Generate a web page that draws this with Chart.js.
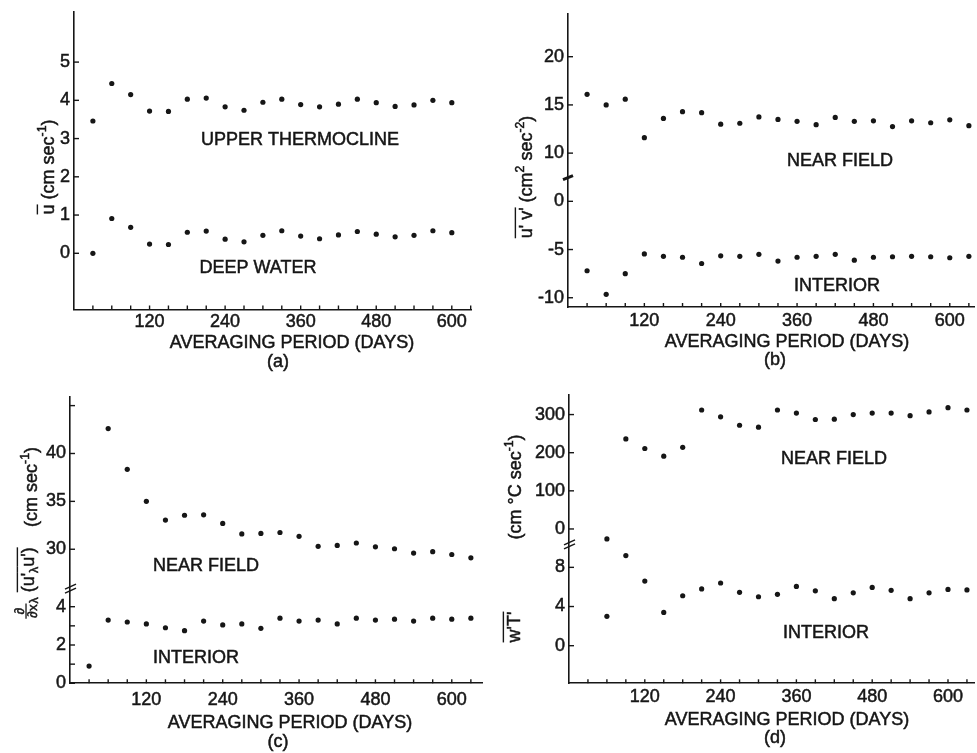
<!DOCTYPE html>
<html><head><meta charset="utf-8">
<script src="https://cdn.jsdelivr.net/npm/chart.js@4.4.1/dist/chart.umd.min.js"></script>
<style>
html,body{margin:0;padding:0;background:#fff;width:977px;height:753px;overflow:hidden;}
canvas{position:absolute;}
</style></head><body>
<canvas id="pa"></canvas><canvas id="pb"></canvas><canvas id="pc"></canvas><canvas id="pd"></canvas>
<script>
// ---------------- DATA ----------------
const xTickLabels = [120, 240, 360, 480, 600];
const xMinorTicks = [30,60,90,120,150,180,210,240,270,300,330,360,390,420,450,480,510,540,570,600,630];

// (a) mean velocity
const daysA = [30,60,90,120,150,180,210,240,270,300,330,360,390,420,450,480,510,540,570,600];
const upperThermocline = [3.46,4.44,4.15,3.72,3.71,4.03,4.06,3.83,3.74,3.95,4.03,3.89,3.83,3.90,4.03,3.94,3.84,3.88,4.00,3.94];
const deepWater = [0.00,0.91,0.68,0.24,0.23,0.55,0.58,0.37,0.30,0.47,0.59,0.45,0.38,0.48,0.57,0.50,0.43,0.47,0.59,0.54];
const yTicksA = [0,1,2,3,4,5];

// (b) Reynolds stress u'v'
const daysB = [30,60,90,120,150,180,210,240,270,300,330,360,390,420,450,480,510,540,570,600,630];
const nearFieldB = [16.1,15.0,15.6,11.6,13.6,14.3,14.2,13.0,13.1,13.75,13.5,13.3,12.95,13.7,13.3,13.35,12.75,13.35,13.15,13.45,12.85];
const interiorB = [-7.2,-9.65,-7.5,-5.45,-5.7,-5.8,-6.45,-5.65,-5.7,-5.5,-6.2,-5.8,-5.7,-5.5,-6.1,-5.8,-5.75,-5.7,-5.75,-5.85,-5.7];
const yTicksBLow = [-10,-5,0];
const yTicksBHigh = [10,15,20];

// (c) momentum flux divergence
const daysCNear = [60,90,120,150,180,210,240,270,300,330,360,390,420,450,480,510,540,570,600,630];
const nearFieldC = [42.6,38.35,35.0,33.05,33.55,33.6,32.7,31.6,31.65,31.75,31.35,30.3,30.4,30.65,30.25,30.05,29.6,29.75,29.45,29.1];
const daysCInt = [30,60,90,120,150,180,210,240,270,300,330,360,390,420,450,480,510,540,570,600,630];
const interiorC = [0.9,3.3,3.2,3.1,2.9,2.75,3.25,3.05,3.1,2.87,3.4,3.25,3.3,3.1,3.4,3.3,3.35,3.25,3.4,3.35,3.4];
const yTicksCLow = [0,2,4];
const yMinorCLow = [1,3];
const yTicksCHigh = [30,35,40];
const yMinorCHigh = [45];

// (d) heat flux w'T'
const daysD = [60,90,120,150,180,210,240,270,300,330,360,390,420,450,480,510,540,570,600,630];
const nearFieldD = [-26,236,211,191,214,312,294,272,267,312,304,287,288,300,304,304,297,307,318,312];
const interiorD = [3.0,9.2,6.6,3.4,5.1,5.8,6.4,5.45,5.0,5.25,6.05,5.6,4.8,5.4,5.95,5.65,4.8,5.4,5.75,5.7];
const yTicksDLow = [0,4,8];
const yTicksDHigh = [0,100,200,300];

// broken-axis mappings (value -> axis position)
const ident = v => v;
const highB = v => v - 5;
const highC = v => 7 + (v - 30) / 2;
const highD = v => 11.92 + v / 25.68;

// ---------------- STYLE / LAYOUT ----------------
const FONT = "'Liberation Sans', Arial, Helvetica, sans-serif";
const INK = '#161616';
const FS = 18;
const STROKE = 0.5;

function pts(days, vals, f) { return days.map((d, i) => ({x: d, y: f(vals[i])})); }
function tickList(vals, f, labeled) { return vals.map(v => ({pos: f(v), label: labeled ? String(v) : ''})); }

function txt(ctx, s, x, y) {
  ctx.fillText(s, x, y);
  ctx.lineWidth = STROKE;
  ctx.strokeText(s, x, y);
}

function drawRich(ctx, cx, cy, parts, size) {
  ctx.save();
  ctx.translate(cx, cy);
  ctx.rotate(-Math.PI / 2);
  ctx.textAlign = 'left';
  ctx.textBaseline = 'alphabetic';
  let w = 0;
  const items = parts.map(pt => {
    const s = (pt.sup || pt.sub) ? size * 0.68 : (pt.small ? size * 0.74 : size);
    ctx.font = s + 'px ' + FONT;
    let mw;
    if (pt.frac) {
      const nw = ctx.measureText(pt.num).width;
      const dw = ctx.measureText(pt.den).width;
      mw = Math.max(nw, dw) + 2;
    } else {
      mw = ctx.measureText(pt.t).width;
    }
    const it = Object.assign({}, pt, {s: s, w: mw, x: w});
    w += mw;
    return it;
  });
  const base = size * 0.36;
  items.forEach(it => {
    ctx.font = it.s + 'px ' + FONT;
    const x0 = -w / 2 + it.x;
    if (it.frac) {
      const nw = ctx.measureText(it.num).width;
      const dw = ctx.measureText(it.den).width;
      txt(ctx, it.num, x0 + (it.w - nw) / 2, base - size * 0.6);
      ctx.lineWidth = 1.3;
      ctx.beginPath(); ctx.moveTo(x0, base - size * 0.47); ctx.lineTo(x0 + it.w, base - size * 0.47); ctx.stroke();
      txt(ctx, it.den, x0 + (it.w - dw) / 2, base + size * 0.14);
      return;
    }
    let dy = base;
    if (it.sup) dy -= size * 0.45;
    if (it.sub) dy += size * 0.22;
    txt(ctx, it.t, x0, dy);
    if (it.over) {
      ctx.lineWidth = 1.4;
      const oy = base - size * 0.95;
      ctx.beginPath(); ctx.moveTo(x0, oy); ctx.lineTo(x0 + it.w, oy); ctx.stroke();
    }
  });
  ctx.restore();
}

function decor(p) {
  return {
    id: 'decor_' + p.id,
    afterDraw(chart) {
      const ctx = chart.ctx, xs = chart.scales.x, ys = chart.scales.y, a = chart.chartArea;
      ctx.save();
      ctx.strokeStyle = INK; ctx.fillStyle = INK; ctx.lineWidth = 1.4;
      const line = (x1, y1, x2, y2) => { ctx.beginPath(); ctx.moveTo(x1, y1); ctx.lineTo(x2, y2); ctx.stroke(); };
      xMinorTicks.forEach(v => { if (v > xs.max) return; const px = xs.getPixelForValue(v); line(px, a.bottom, px, a.bottom - 4); });
      p.yTickPos.forEach(v => { const py = ys.getPixelForValue(v); line(a.left, py, a.left + 5, py); });
      if (p.brk) {
        const py = ys.getPixelForValue(p.brk.pos);
        if (p.brk.single) {
          ctx.lineWidth = 3;
          line(a.left - 5, py + 2, a.left + 5, py - 2);
        } else {
          ctx.lineWidth = 1.5;
          line(a.left - 5, py + 1, a.left + 6, py - 4);
          line(a.left - 5, py + 5, a.left + 6, py);
        }
      }
      const ox = p.left, oy = p.top;
      ctx.font = FS + 'px ' + FONT;
      ctx.textAlign = 'center'; ctx.textBaseline = 'middle';
      p.texts.forEach(t => txt(ctx, t.text, t.x - ox, t.y - oy));
      p.rich.forEach(r => drawRich(ctx, r.x - ox, r.y - oy, r.parts, FS));
      ctx.restore();
    }
  };
}

function panel(p) {
  const cv = document.getElementById(p.id);
  cv.width = p.w; cv.height = p.h;
  cv.style.left = p.left + 'px'; cv.style.top = p.top + 'px';
  cv.style.width = p.w + 'px'; cv.style.height = p.h + 'px';
  const A = p.area;
  const padTop = A.T - p.top, padRight = p.left + p.w - A.R;
  const yW = A.L - p.left, xH = p.top + p.h - A.B;
  const yTicks = p.yTicks;
  const tickFont = {family: FONT, size: FS};
  new Chart(cv, {
    type: 'scatter',
    data: {datasets: p.series.map(s => ({data: s, pointRadius: 2.6, pointHoverRadius: 2.6, backgroundColor: INK, borderWidth: 0, showLine: false}))},
    options: {
      responsive: false, animation: false, devicePixelRatio: 1, events: [],
      layout: {padding: {top: padTop, right: padRight, left: 0, bottom: 0}},
      plugins: {legend: {display: false}, tooltip: {enabled: false}},
      scales: {
        x: {
          type: 'linear', min: p.xmin, max: p.xmax,
          afterFit: s => { s.height = xH; s.paddingLeft = 0; s.paddingRight = 0; s.paddingTop = 0; s.paddingBottom = 0; },
          afterBuildTicks: s => { s.ticks = xTickLabels.map(v => ({value: v})); },
          ticks: {font: tickFont, color: INK, textStrokeColor: INK, textStrokeWidth: STROKE, padding: p.xPad, maxRotation: 0, minRotation: 0, autoSkip: false, callback: (v, i) => String(xTickLabels[i])},
          grid: {display: true, drawOnChartArea: false, drawTicks: false},
          border: {display: true, color: INK, width: 1.6}
        },
        y: {
          type: 'linear', min: p.ymin, max: p.ymax,
          afterFit: s => { s.width = yW; s.paddingTop = 0; s.paddingBottom = 0; s.paddingLeft = 0; s.paddingRight = 0; },
          afterBuildTicks: s => { s.ticks = yTicks.map(t => ({value: t.pos})); },
          ticks: {font: tickFont, color: INK, textStrokeColor: INK, textStrokeWidth: STROKE, padding: 4, autoSkip: false, callback: (v, i) => yTicks[i].label},
          grid: {display: true, drawOnChartArea: false, drawTicks: false},
          border: {display: true, color: INK, width: 1.6}
        }
      }
    },
    plugins: [decor(p)]
  });
}

// ---- panel (a)
const ticksA = tickList(yTicksA, ident, true);
panel({
  id: 'pa', left: 0, top: 0, w: 490, h: 378,
  area: {L: 74, T: 12, R: 471, B: 309.5},
  xmin: 0, xmax: 630.5, ymin: -1.47, ymax: 6.31, xPad: 1.5,
  series: [pts(daysA, upperThermocline, ident), pts(daysA, deepWater, ident)],
  yTicks: ticksA, yTickPos: ticksA.map(t => t.pos),
  texts: [
    {text: 'UPPER THERMOCLINE', x: 300, y: 140},
    {text: 'DEEP WATER', x: 258, y: 268},
    {text: 'AVERAGING PERIOD (DAYS)', x: 292, y: 343},
    {text: '(a)', x: 278, y: 362}
  ],
  rich: [{x: 48, y: 167, parts: [{t: 'u', over: true}, {t: ' (cm sec'}, {t: '-1', sup: true}, {t: ')'}]}]
});

// ---- panel (b)
const ticksB = tickList(yTicksBLow, ident, true).concat(tickList(yTicksBHigh, highB, true));
panel({
  id: 'pb', left: 490, top: 0, w: 487, h: 378,
  area: {L: 568, T: 14, R: 977, B: 307},
  xmin: 0, xmax: 638.7, ymin: -10.96, ymax: 19.43, xPad: 3,
  series: [pts(daysB, nearFieldB, highB), pts(daysB, interiorB, ident)],
  yTicks: ticksB, yTickPos: ticksB.map(t => t.pos),
  brk: {pos: 2.45, single: true},
  texts: [
    {text: 'NEAR FIELD', x: 840, y: 161},
    {text: 'INTERIOR', x: 837, y: 286},
    {text: 'AVERAGING PERIOD (DAYS)', x: 787, y: 342},
    {text: '(b)', x: 775, y: 360}
  ],
  rich: [{x: 526, y: 177, parts: [{t: "u' v'", over: true}, {t: ' (cm'}, {t: '2', sup: true}, {t: ' sec'}, {t: '-2', sup: true}, {t: ')'}]}]
});

// ---- panel (c)
const ticksC = tickList(yTicksCLow, ident, true).concat(tickList(yTicksCHigh, highC, true));
const minorC = yMinorCLow.map(ident).concat(yMinorCHigh.map(highC));
panel({
  id: 'pc', left: 0, top: 378, w: 490, h: 375,
  area: {L: 70, T: 397, R: 482, B: 683.3},
  xmin: 0, xmax: 647.5, ymin: 0, ymax: 14.95, xPad: 6,
  series: [pts(daysCNear, nearFieldC, highC), pts(daysCInt, interiorC, ident)],
  yTicks: ticksC, yTickPos: ticksC.map(t => t.pos).concat(minorC),
  brk: {pos: 4.97, single: false},
  texts: [
    {text: 'NEAR FIELD', x: 206, y: 566},
    {text: 'INTERIOR', x: 196, y: 658},
    {text: 'AVERAGING PERIOD (DAYS)', x: 290, y: 723},
    {text: '(c)', x: 278, y: 742}
  ],
  rich: [
    {x: 31, y: 487, parts: [{t: '(cm sec'}, {t: '-1', sup: true}, {t: ')'}]},
    {x: 28, y: 583, parts: [{frac: true, num: '\u2202', den: '\u2202x', small: true}, {t: '\u03bb', sub: true}, {t: ' '}, {t: "(u'", over: true}, {t: '\u03bb', sub: true, over: true}, {t: "u')", over: true}]}
  ]
});

// ---- panel (d)
const ticksD = tickList(yTicksDLow, ident, true).concat(tickList(yTicksDHigh, highD, true));
panel({
  id: 'pd', left: 490, top: 378, w: 487, h: 375,
  area: {L: 569, T: 395, R: 977, B: 683.3},
  xmin: 0, xmax: 641.8, ymin: -3.84, ymax: 25.6, xPad: 2.6,
  series: [pts(daysD, nearFieldD, highD), pts(daysD, interiorD, ident)],
  yTicks: ticksD, yTickPos: ticksD.map(t => t.pos),
  brk: {pos: 10.4, single: false},
  texts: [
    {text: 'NEAR FIELD', x: 834, y: 459},
    {text: 'INTERIOR', x: 826, y: 633},
    {text: 'AVERAGING PERIOD (DAYS)', x: 787, y: 720},
    {text: '(d)', x: 775, y: 738}
  ],
  rich: [
    {x: 515, y: 487, parts: [{t: '(cm \u00b0C sec'}, {t: '-1', sup: true}, {t: ')'}]},
    {x: 514, y: 627, parts: [{t: "w'T'", over: true}]}
  ]
});
</script>
</body></html>
